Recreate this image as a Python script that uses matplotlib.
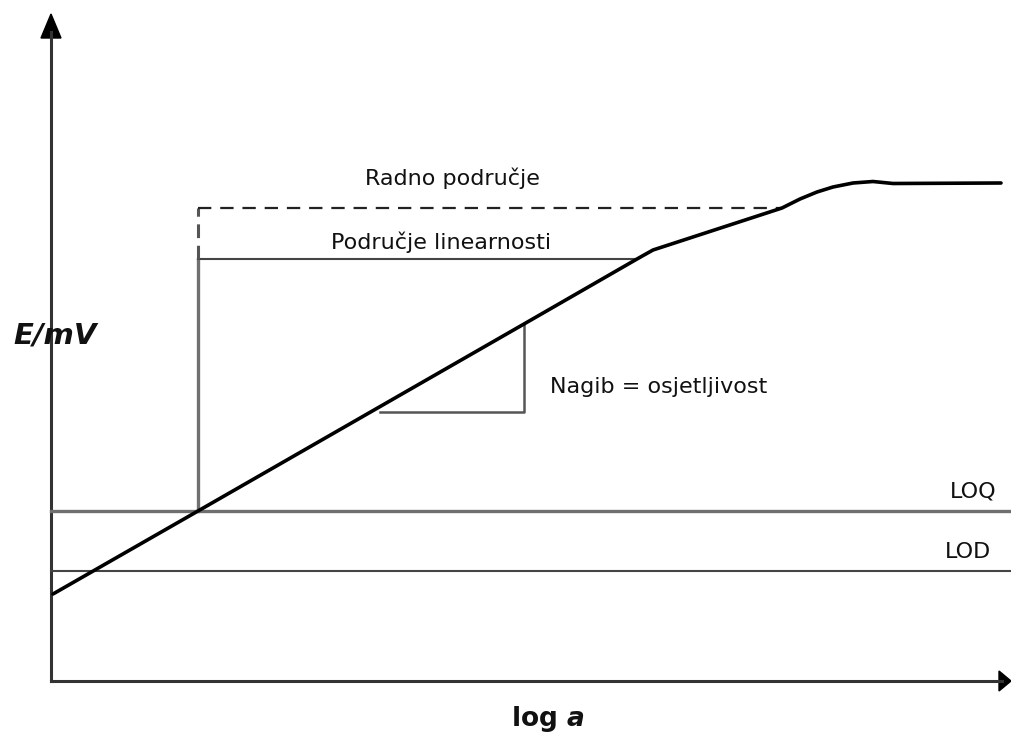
import matplotlib.pyplot as plt
from matplotlib.patches import Polygon

# Shematski prikaz (koordinate u pikselima slike, y raste prema dolje)
W, H = 1011, 736

# glavna krivulja E = f(log a)
curve_x = [53, 198, 524, 637, 653, 782, 800, 817, 833, 853, 873, 883, 893, 1001]
curve_y = [594, 511, 324, 259, 250, 208, 199, 192, 187, 183, 181.5, 182.5, 183.5, 183]

# granice
loq_y = 511
lod_y = 571
lin_top_y = 259      # područje linearnosti
work_top_y = 208     # radno područje
left_x = 198
lin_right_x = 637
work_right_x = 782

# trokut nagiba
tri_x = [380, 524, 524]
tri_y = [412, 412, 324]

fig = plt.figure(figsize=(W / 100, H / 100), dpi=100)
ax = fig.add_axes([0, 0, 1, 1])
ax.set_xlim(0, W)
ax.set_ylim(H, 0)
ax.axis("off")

# osi
ax.plot([51, 51], [681, 32], color="#333333", lw=2.2)
ax.plot([51, 1002], [681, 681], color="#333333", lw=2.2)
ax.add_patch(Polygon([[41, 38], [61, 38], [51, 14]], closed=True, color="black"))
ax.add_patch(Polygon([[999, 671], [999, 691], [1011, 681]], closed=True, color="black"))

# LOQ / LOD
ax.plot([51, 1011], [loq_y, loq_y], color="#6f6f6f", lw=2.4)
ax.plot([51, 1011], [lod_y, lod_y], color="#444444", lw=1.5)

# područje linearnosti
ax.plot([left_x, left_x], [loq_y, lin_top_y], color="#707070", lw=2.4)
ax.plot([left_x, lin_right_x], [lin_top_y, lin_top_y], color="#444444", lw=1.5)

# radno područje (isprekidano)
ax.plot([left_x, left_x], [lin_top_y, work_top_y], color="#555555", lw=2.2,
        linestyle=(0, (4.5, 2.5)))
ax.plot([left_x, work_right_x], [work_top_y, work_top_y], color="#222222", lw=1.6,
        linestyle=(0, (6, 4)))

# trokut nagiba
ax.plot(tri_x, tri_y, color="#555555", lw=1.8)

# glavna krivulja
ax.plot(curve_x, curve_y, color="black", lw=2.6, solid_capstyle="round",
        solid_joinstyle="round")

txt = dict(color="#111111", fontsize=16, family="DejaVu Sans", va="baseline")
ax.text(452, 185, "Radno područje", ha="center", **txt)
ax.text(441, 249, "Područje linearnosti", ha="center", **txt)
ax.text(550, 393, "Nagib = osjetljivost", ha="left", **txt)
ax.text(996, 497, "LOQ", ha="right", **txt)
ax.text(991, 558, "LOD", ha="right", **txt)

ax.text(55, 343, "E/mV", ha="center", va="baseline", fontsize=21,
        fontweight="bold", fontstyle="italic", color="#111111")
ax.text(548, 726, r"log $\boldsymbol{a}$", ha="center", va="baseline", fontsize=19,
        fontweight="bold", color="#111111")

fig.savefig("out.png", dpi=100)
